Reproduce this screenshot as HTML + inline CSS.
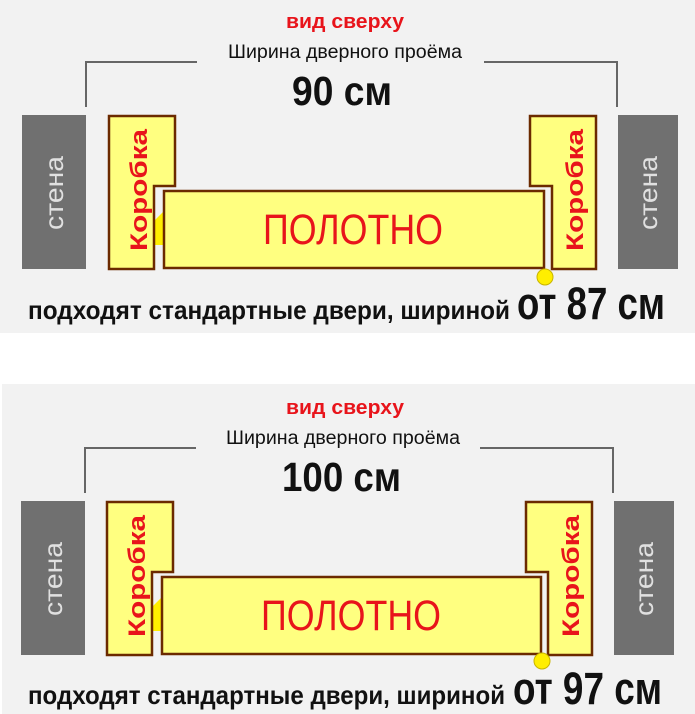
<!DOCTYPE html>
<html><head><meta charset="utf-8"><style>
html,body{margin:0;padding:0;background:#fff;}
svg{display:block;}
text{font-family:"Liberation Sans",sans-serif;}
</style></head><body>
<svg width="695" height="714" viewBox="0 0 695 714" xmlns="http://www.w3.org/2000/svg">
<rect x="0" y="0" width="695" height="333" fill="#f2f2f2"/>
<rect x="2" y="384" width="693" height="330" fill="#f2f2f2"/>

<!-- Panel 1 -->
<g>
<text x="345" y="28" text-anchor="middle" font-size="20" font-weight="bold" textLength="118" lengthAdjust="spacingAndGlyphs" fill="#e8141b">вид сверху</text>
<text x="228" y="58" font-size="19" textLength="234" lengthAdjust="spacingAndGlyphs" fill="#111">Ширина дверного проёма</text>
<text x="292" y="105" font-size="41" font-weight="bold" textLength="100" lengthAdjust="spacingAndGlyphs" fill="#111">90 см</text>
<polyline points="86,107 86,62 197,62" fill="none" stroke="#666" stroke-width="2"/>
<polyline points="484,62 617,62 617,107" fill="none" stroke="#666" stroke-width="2"/>
<rect x="22" y="115" width="64" height="154" fill="#707070"/>
<rect x="618" y="115" width="60" height="154" fill="#707070"/>
<text transform="translate(63,193) rotate(-90)" text-anchor="middle" font-size="26" textLength="74" lengthAdjust="spacingAndGlyphs" fill="#e0e0e0">стена</text>
<text transform="translate(657,193) rotate(-90)" text-anchor="middle" font-size="26" textLength="74" lengthAdjust="spacingAndGlyphs" fill="#e0e0e0">стена</text>
<polygon points="155,220 163,212 163,245 155,245" fill="#ffee00"/>
<path d="M109,116 H175 V186 H154 V269 H109 Z" fill="#ffff80" stroke="#6b2a00" stroke-width="2.5"/>
<rect x="164" y="191" width="380" height="77" fill="#ffff80" stroke="#6b2a00" stroke-width="2.5"/>
<path d="M530,116 H596 V269 H552 V186 H530 Z" fill="#ffff80" stroke="#6b2a00" stroke-width="2.5"/>
<text transform="translate(147,190) rotate(-90)" text-anchor="middle" font-size="24" font-weight="bold" textLength="122" lengthAdjust="spacingAndGlyphs" fill="#e8141b">Коробка</text>
<text transform="translate(583,190) rotate(-90)" text-anchor="middle" font-size="24" font-weight="bold" textLength="122" lengthAdjust="spacingAndGlyphs" fill="#e8141b">Коробка</text>
<text x="263" y="244" font-size="43" textLength="180" lengthAdjust="spacingAndGlyphs" fill="#e8141b">ПОЛОТНО</text>
<circle cx="545" cy="277" r="8" fill="#ffee00" stroke="#c8b400" stroke-width="1"/>
<text x="28" y="319" font-size="26" font-weight="bold" textLength="482" lengthAdjust="spacingAndGlyphs" fill="#111">подходят стандартные двери, шириной</text>
<text x="517" y="319" font-size="45" font-weight="bold" textLength="148" lengthAdjust="spacingAndGlyphs" fill="#111">от 87 см</text>
</g>

<!-- Panel 2 -->
<g>
<text x="345" y="414" text-anchor="middle" font-size="20" font-weight="bold" textLength="118" lengthAdjust="spacingAndGlyphs" fill="#e8141b">вид сверху</text>
<text x="226" y="444" font-size="19" textLength="234" lengthAdjust="spacingAndGlyphs" fill="#111">Ширина дверного проёма</text>
<text x="282" y="491" font-size="41" font-weight="bold" textLength="119" lengthAdjust="spacingAndGlyphs" fill="#111">100 см</text>
<polyline points="85,493 85,448 196,448" fill="none" stroke="#666" stroke-width="2"/>
<polyline points="480,448 613,448 613,493" fill="none" stroke="#666" stroke-width="2"/>
<rect x="21" y="501" width="64" height="154" fill="#707070"/>
<rect x="614" y="501" width="60" height="154" fill="#707070"/>
<text transform="translate(62,579) rotate(-90)" text-anchor="middle" font-size="26" textLength="74" lengthAdjust="spacingAndGlyphs" fill="#e0e0e0">стена</text>
<text transform="translate(653,579) rotate(-90)" text-anchor="middle" font-size="26" textLength="74" lengthAdjust="spacingAndGlyphs" fill="#e0e0e0">стена</text>
<polygon points="153,606 161,598 161,631 153,631" fill="#ffee00"/>
<path d="M107,502 H173 V572 H152 V655 H107 Z" fill="#ffff80" stroke="#6b2a00" stroke-width="2.5"/>
<rect x="162" y="577" width="379" height="77" fill="#ffff80" stroke="#6b2a00" stroke-width="2.5"/>
<path d="M526,502 H592 V655 H548 V572 H526 Z" fill="#ffff80" stroke="#6b2a00" stroke-width="2.5"/>
<text transform="translate(145,576) rotate(-90)" text-anchor="middle" font-size="24" font-weight="bold" textLength="122" lengthAdjust="spacingAndGlyphs" fill="#e8141b">Коробка</text>
<text transform="translate(579,576) rotate(-90)" text-anchor="middle" font-size="24" font-weight="bold" textLength="122" lengthAdjust="spacingAndGlyphs" fill="#e8141b">Коробка</text>
<text x="261" y="630" font-size="43" textLength="180" lengthAdjust="spacingAndGlyphs" fill="#e8141b">ПОЛОТНО</text>
<circle cx="542" cy="661" r="8" fill="#ffee00" stroke="#c8b400" stroke-width="1"/>
<text x="28" y="704" font-size="26" font-weight="bold" textLength="477" lengthAdjust="spacingAndGlyphs" fill="#111">подходят стандартные двери, шириной</text>
<text x="513" y="704" font-size="45" font-weight="bold" textLength="149" lengthAdjust="spacingAndGlyphs" fill="#111">от 97 см</text>
</g>
</svg>
</body></html>
